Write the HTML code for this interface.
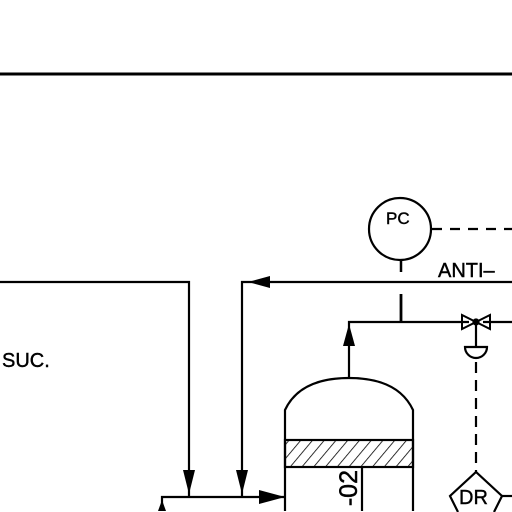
<!DOCTYPE html>
<html><head><style>
html,body{margin:0;background:#fff;overflow:hidden;width:512px;height:512px}
svg{display:block;overflow:hidden}
svg text{font-family:"Liberation Sans",sans-serif;fill:#000}
</style></head><body>
<svg width="512" height="512" viewBox="0 0 512 512" stroke="#000" fill="none" stroke-width="2.2">
<defs>
<pattern id="hatch" width="9" height="9" patternUnits="userSpaceOnUse" patternTransform="rotate(40)">
<line x1="0" y1="0" x2="0" y2="9" stroke="#000" stroke-width="1.6"/>
</pattern>
</defs>
<line x1="0" y1="74" x2="512" y2="74" stroke-width="3"/>
<g>
<circle cx="400" cy="229" r="31"/>
<text x="386" y="224" font-size="17" stroke="#000" stroke-width="0.4">PC</text>
<line x1="401" y1="260" x2="401" y2="272" stroke-width="2.5"/>
</g>
<line x1="432" y1="229" x2="512" y2="229" stroke-dasharray="10,8"/>
<text x="438" y="277" font-size="20" stroke="#000" stroke-width="0.4">ANTI–</text>
<text x="2" y="367" font-size="20" stroke="#000" stroke-width="0.4">SUC.</text>
<path d="M0 282 H189 V496"/>
<polygon points="183,470 195,470 189,494" fill="#000" stroke="none"/>
<path d="M512 282 H242 V496"/>
<polygon points="248,282 270,276 270,288" fill="#000" stroke="none"/>
<polygon points="236,470 248,470 242,494" fill="#000" stroke="none"/>
<path d="M162 511 V497 H285"/>
<polygon points="162,500 158,511 166,511" fill="#000" stroke="none"/>
<polygon points="285,497 259,490 259,504" fill="#000" stroke="none"/>
<line x1="401" y1="294" x2="401" y2="322" stroke-width="2.8"/>
<path d="M349 378 V322 H469 M483 322 H512"/>
<polygon points="349,324 343,346 355,346" fill="#000" stroke="none"/>
<g>
<polygon points="462,315 462,329 490,315 490,329" stroke-width="2"/>
<circle cx="476" cy="322" r="2.5" fill="#000"/>
<line x1="476" y1="322" x2="476" y2="348"/>
<path d="M465 347 H487 A11 11 0 0 1 465 347 Z"/>
</g>
<line x1="476" y1="362" x2="476" y2="472" stroke-dasharray="11,7"/>
<g>
<path d="M458 512 L450 496 L476 472 L502 496 L494 512"/>
<text x="459" y="504" font-size="20" stroke="#000" stroke-width="0.4">DR</text>
<line x1="502" y1="496" x2="512" y2="496"/>
</g>
<g>
<path d="M285 511 V410 Q300 378 349 378 Q398 378 413 410 V511"/>
<rect x="285" y="440" width="128" height="27" fill="url(#hatch)"/>
<line x1="362" y1="467" x2="362" y2="511"/>
<text transform="translate(357,470) rotate(-90)" text-anchor="end" font-size="25" stroke="#000" stroke-width="0.5">-02</text>
</g>
</svg>
</body></html>
